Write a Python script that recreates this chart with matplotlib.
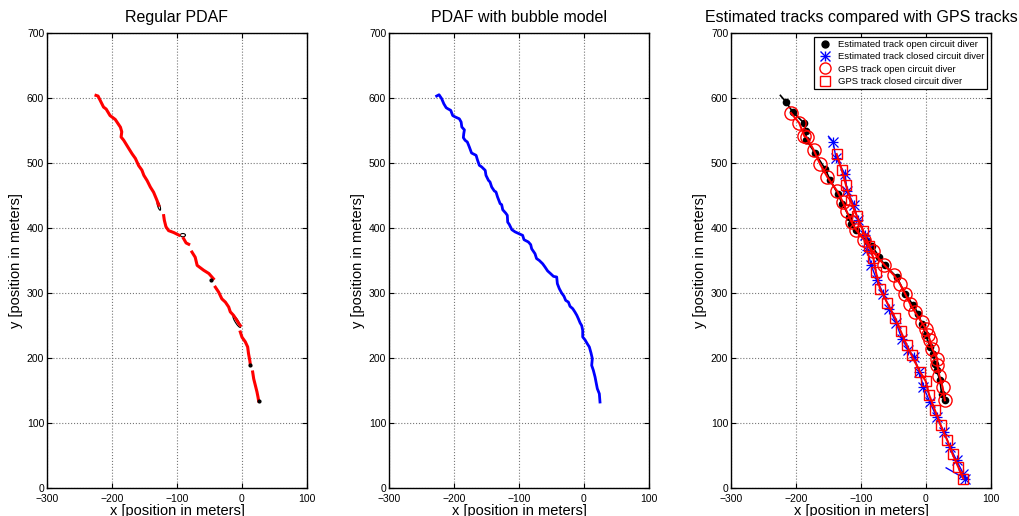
import matplotlib.pyplot as plt
import numpy as np
from matplotlib.patches import Ellipse
from matplotlib.lines import Line2D

plt.rcParams['font.family'] = ['Liberation Sans', 'DejaVu Sans']

nan = np.nan

# regular PDAF track, gaps where the filter lost the target
pdaf_x = [-224.6, -221.5, -218, -213, -209, -203, -195, -187, -185, -186, -182, -174, -169, -164,
          -159, -154, -151, -146, -141, -136, -131, -128, nan,
          -120.5, -119.5, -117, -113, -105, -97, nan,
          -90, -86, -82, nan,
          -77, -72, -69, -59, -51, -44, nan,
          -41, -36, -31, -25.6, -20.5, -18, -13, -8, -5, -2.6, nan,
          -2.6, 0, 5, 8.7, 10, 12, 13, nan,
          16.4, 18, 20.5, 23, 24.6, 25.6]
pdaf_y = [604, 603, 596, 586, 583, 573, 567, 555, 548, 540, 535, 522, 514, 507,
          496, 489, 481, 473, 463, 455, 443, 435, nan,
          419, 412, 402, 396, 393, 389, nan,
          384, 377, 375, nan,
          363, 355, 342.5, 335, 330, 322, nan,
          309, 301.5, 291, 286, 278.5, 271, 265.6, 258, 253, 250, nan,
          240, 232, 225, 217, 207, 196, 188.7, nan,
          178.5, 168, 158, 148, 140, 134]
# validation gates drawn where the track breaks
gate_x = [-128, -91, -8]
gate_y = [434, 389, 256]
gate_w = [14, 8, 21]
gate_h = [3.5, 5, 5]
gate_ang = [108, 0, 122]
end_x = [-47.7, 13, 25.6]
end_y = [320.5, 188.7, 134]

# PDAF with bubble model
bub_x = [-226.7, -223, -219, -215.6, -212, -208.7, -205, -202, -198.5, -191.8, -189, -188, -184,
         -185, -185.6, -183, -179.5, -176.4, -173, -166, -164, -161, -157.4, -152, -150.8, -147,
         -144.6, -142, -138, -135.4, -133, -129, -126.7, -125, -120.5, -118, -117.4, -115, -111,
         -106, -99.5, -94.4, -92.3, -85.6, -82, -80.5, -75.4, -73, -68.7, -63.6, -60, -56, -51.3,
         -47, -42, -41, -38, -34.4, -30.8, -28.2, -24, -21.5, -17.4, -14, -11, -8.7, -6, -3.6,
         -2, -2, 1.5, 5, 8.2, 10.8, 12.8, 11.8, 14.4, 17, 18.5, 20.5, 23.6, 24.6]
bub_y = [603, 605, 599, 591, 585, 583, 581, 573, 571, 568, 563, 555.4, 551,
         545, 539, 535, 532.3, 524.6, 515.4, 511.8, 505, 496.4, 494, 488.7, 481, 473.3,
         470.8, 463, 457, 455.4, 447.7, 437.4, 436, 428, 423, 419.5, 409, 405.6, 397.4,
         394, 391, 388.7, 382, 378.5, 374.4, 368, 360.5, 353, 350, 345, 340, 334, 329.7,
         325.6, 324.6, 314.4, 306.7, 300, 295, 288.7, 286, 279.5, 276, 270.8, 265.6, 260.5, 254, 250,
         242.6, 232.3, 228, 222, 217, 207.7, 199, 188.7, 181, 170.8, 163, 152.8, 145, 132.3]

# estimated tracks and GPS tracks
est_open_x = [-224, -215.4, -205, -187.7, -184.6, -184.6, -170.8, -155.4, -147.7, -136, -128.7,
              -118, -116, -107.7, -91.3, -82.6, -71.8, -63, -45, -32.3, -19.5, -11.8, -6.7,
              0, 6.2, 11.3, 13.8, 16.4, 21.5, 24, 29]
est_open_y = [604, 593.8, 578.5, 561.5, 548.7, 536, 515.4, 491.3, 474.4, 453, 437.4,
              417, 406.7, 397.4, 379.5, 371.8, 354.9, 342.6, 324.6, 299, 281, 268, 252.8,
              235, 217, 206.7, 191, 181, 165.6, 145, 135]
est_closed_x = [-150, -143, -138.5, -124.6, -121.5, -110.8, -105, -94, -90.3, -84.6, -76,
                -65.6, -56.4, -46, -37.4, -27, -18.5, -10, -4, 6, 16.4, 27.7, 37, 47, 57.4,
                60, 31]
est_closed_y = [541, 533, 507.7, 483, 457.4, 436, 413, 389.7, 366.7, 343.6, 320.5,
                299, 276, 254, 230, 212, 201.5, 178.5, 155.4, 132, 109, 86, 63, 42.6, 22,
                14.4, 31]
gps_open_x = [-207.7, -195, -187, -183.6, -173, -163, -151.8, -136.4, -128, -122, -114.4,
              -107.7, -95.4, -82, -64.6, -49, -40, -32.3, -24.6, -17, -6.7, 0, 3.6, 6.2,
              9.7, 17.4, 17.4, 20.5, 25.6, 29]
gps_open_y = [577, 561.5, 541, 539.5, 520.5, 498.5, 478.5, 456.4, 440, 425.6, 409,
              397.4, 382, 364, 343.6, 327, 314, 299, 283.6, 270.8, 255, 245, 235, 227,
              214, 199, 188.7, 173, 155, 135]
gps_closed_x = [-137.4, -129.7, -123, -116, -106.7, -96.4, -87, -81, -77, -70.8, -59.5,
                -47.7, -39, -29.7, -22, -9.2, -0.5, 5, 13.8, 22.6, 32.8, 41, 49.7, 57.4]
gps_closed_y = [513.8, 489.7, 465.6, 443.6, 419, 395, 371.8, 353.8, 332, 306.7, 284.6,
                262, 241.5, 219.5, 204, 178.5, 164.6, 142.6, 119.5, 96.4, 73.3, 51.8, 32.3, 14.4]

titles = ['Regular PDAF', 'PDAF with bubble model',
          'Estimated tracks compared with GPS tracks']
xticks = [-300, -200, -100, 0, 100]
yticks = [0, 100, 200, 300, 400, 500, 600, 700]

fig = plt.figure(figsize=(10.2, 5.16), dpi=100)
lefts = [47 / 1020, 389 / 1020, 731 / 1020]
axes = []
for i, l in enumerate(lefts):
    ax = fig.add_axes([l, 28 / 516, 260 / 1020, 455 / 516])
    ax.set_xlim(-300, 100)
    ax.set_ylim(0, 700)
    ax.set_xticks(xticks)
    ax.set_yticks(yticks)
    ax.grid(True, linestyle=':', color='#777777', linewidth=0.8)
    ax.tick_params(direction='in', top=True, right=True, length=3.5, labelsize=7.5)
    ax.tick_params(axis='x', pad=4)
    ax.tick_params(axis='y', pad=2)
    for s in ax.spines.values():
        s.set_linewidth(1.0)
    ax.set_title(titles[i], fontsize=11.5, pad=8)
    ax.set_xlabel('x [position in meters]', fontsize=10.5, labelpad=0)
    ax.set_ylabel('y [position in meters]', fontsize=10.5, labelpad=3)
    axes.append(ax)

ax1, ax2, ax3 = axes

ax1.plot(pdaf_x, pdaf_y, color='red', linewidth=2.2)
for cx, cy, w, h, a in zip(gate_x, gate_y, gate_w, gate_h, gate_ang):
    ax1.add_patch(Ellipse((cx, cy), w, h, angle=a, fill=False, edgecolor='black', linewidth=0.8))
ax1.plot(end_x, end_y, 'k.', markersize=4)

ax2.plot(bub_x, bub_y, color='blue', linewidth=2.0)

ax3.plot(est_open_x, est_open_y, color='black', linewidth=1.2)
ax3.plot(est_open_x[1:], est_open_y[1:], 'o', color='black', markersize=4.5)
ax3.plot(est_closed_x, est_closed_y, color='blue', linewidth=1.0)
# asterisk marker built from a plus and a cross
for m in ['+', 'x']:
    ax3.plot(est_closed_x[1:-1], est_closed_y[1:-1], m, color='blue', markersize=7,
             markeredgewidth=0.9)
ax3.plot(gps_open_x, gps_open_y, color='red', linewidth=1.5)
ax3.plot(gps_open_x, gps_open_y, 'o', color='red', markersize=9.5, markerfacecolor='none',
         markeredgewidth=1.0)
ax3.plot(gps_closed_x, gps_closed_y, color='red', linewidth=1.5)
ax3.plot(gps_closed_x, gps_closed_y, 's', color='red', markersize=7.5, markerfacecolor='none',
         markeredgewidth=1.0)

star = (Line2D([], [], linestyle='none', marker='+', color='blue', markersize=7),
        Line2D([], [], linestyle='none', marker='x', color='blue', markersize=7))
handles = [
    Line2D([], [], linestyle='none', marker='o', color='black', markersize=5),
    star,
    Line2D([], [], linestyle='none', marker='o', color='red', markersize=8,
           markerfacecolor='none'),
    Line2D([], [], linestyle='none', marker='s', color='red', markersize=7,
           markerfacecolor='none'),
]
labels = ['Estimated track open circuit diver', 'Estimated track closed circuit diver',
          'GPS track open circuit diver', 'GPS track closed circuit diver']
leg = ax3.legend(handles, labels, loc='upper right', fontsize=6.8, frameon=True, fancybox=False,
                 edgecolor='black', framealpha=1, handletextpad=0.6, borderpad=0.35,
                 labelspacing=0.35, handlelength=1.5, borderaxespad=0.4)
leg.get_frame().set_linewidth(0.9)

fig.savefig('out.png', dpi=100)
